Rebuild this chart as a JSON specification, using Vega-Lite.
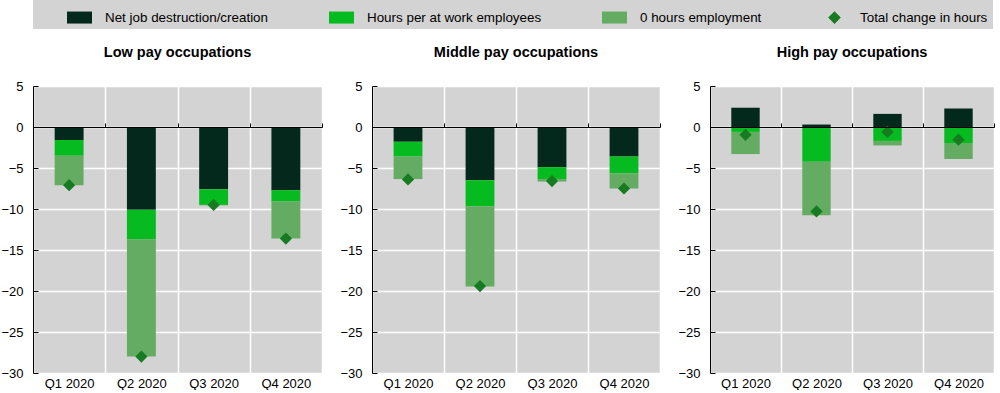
{
  "$schema": "https://vega.github.io/schema/vega-lite/v6.json",
  "background": "white",
  "padding": {"left": 0, "top": 0, "right": 5, "bottom": 0},
  "config": {
    "font": "Liberation Sans",
    "view": {"fill": "#d3d3d3", "stroke": null},
    "axis": {"labelFont": "Liberation Sans", "labelFontSize": 13, "labelColor": "black"},
    "title": {"font": "Liberation Sans", "fontSize": 14.5, "fontWeight": "bold", "color": "black", "anchor": "middle", "offset": 20},
    "legend": {
      "orient": "top", "direction": "horizontal", "title": null,
      "fillColor": "#d3d3d3", "padding": 5, "offset": 15,
      "symbolType": "M-1,-0.48H1V0.48H-1Z", "symbolSize": 625, "symbolStrokeWidth": 0,
      "labelFont": "Liberation Sans", "labelFontSize": 13.4, "labelColor": "black", "labelLimit": 400,
      "labelOffset": 13, "columnPadding": 31, "symbolOffset": 29
    },
    "concat": {"spacing": 16}
  },
  "data": {"values": [
    {"occ": "Low", "quarter": "Q1 2020", "series": "Net job destruction/creation", "value": -1.6},
    {"occ": "Low", "quarter": "Q1 2020", "series": "Hours per at work employees", "value": -1.9},
    {"occ": "Low", "quarter": "Q1 2020", "series": "0 hours employment", "value": -3.6},
    {"occ": "Low", "quarter": "Q1 2020", "series": "Total change in hours", "value": -7.1},
    {"occ": "Low", "quarter": "Q2 2020", "series": "Net job destruction/creation", "value": -10.1},
    {"occ": "Low", "quarter": "Q2 2020", "series": "Hours per at work employees", "value": -3.6},
    {"occ": "Low", "quarter": "Q2 2020", "series": "0 hours employment", "value": -14.3},
    {"occ": "Low", "quarter": "Q2 2020", "series": "Total change in hours", "value": -28.0},
    {"occ": "Low", "quarter": "Q3 2020", "series": "Net job destruction/creation", "value": -7.6},
    {"occ": "Low", "quarter": "Q3 2020", "series": "Hours per at work employees", "value": -1.9},
    {"occ": "Low", "quarter": "Q3 2020", "series": "0 hours employment", "value": -0.05},
    {"occ": "Low", "quarter": "Q3 2020", "series": "Total change in hours", "value": -9.5},
    {"occ": "Low", "quarter": "Q4 2020", "series": "Net job destruction/creation", "value": -7.7},
    {"occ": "Low", "quarter": "Q4 2020", "series": "Hours per at work employees", "value": -1.4},
    {"occ": "Low", "quarter": "Q4 2020", "series": "0 hours employment", "value": -4.5},
    {"occ": "Low", "quarter": "Q4 2020", "series": "Total change in hours", "value": -13.6},
    {"occ": "Middle", "quarter": "Q1 2020", "series": "Net job destruction/creation", "value": -1.8},
    {"occ": "Middle", "quarter": "Q1 2020", "series": "Hours per at work employees", "value": -1.8},
    {"occ": "Middle", "quarter": "Q1 2020", "series": "0 hours employment", "value": -2.75},
    {"occ": "Middle", "quarter": "Q1 2020", "series": "Total change in hours", "value": -6.4},
    {"occ": "Middle", "quarter": "Q2 2020", "series": "Net job destruction/creation", "value": -6.5},
    {"occ": "Middle", "quarter": "Q2 2020", "series": "Hours per at work employees", "value": -3.15},
    {"occ": "Middle", "quarter": "Q2 2020", "series": "0 hours employment", "value": -9.8},
    {"occ": "Middle", "quarter": "Q2 2020", "series": "Total change in hours", "value": -19.4},
    {"occ": "Middle", "quarter": "Q3 2020", "series": "Net job destruction/creation", "value": -4.9},
    {"occ": "Middle", "quarter": "Q3 2020", "series": "Hours per at work employees", "value": -1.45},
    {"occ": "Middle", "quarter": "Q3 2020", "series": "0 hours employment", "value": -0.3},
    {"occ": "Middle", "quarter": "Q3 2020", "series": "Total change in hours", "value": -6.6},
    {"occ": "Middle", "quarter": "Q4 2020", "series": "Net job destruction/creation", "value": -3.6},
    {"occ": "Middle", "quarter": "Q4 2020", "series": "Hours per at work employees", "value": -2.05},
    {"occ": "Middle", "quarter": "Q4 2020", "series": "0 hours employment", "value": -1.85},
    {"occ": "Middle", "quarter": "Q4 2020", "series": "Total change in hours", "value": -7.5},
    {"occ": "High", "quarter": "Q1 2020", "series": "Net job destruction/creation", "value": 2.35},
    {"occ": "High", "quarter": "Q1 2020", "series": "Hours per at work employees", "value": -0.6},
    {"occ": "High", "quarter": "Q1 2020", "series": "0 hours employment", "value": -2.7},
    {"occ": "High", "quarter": "Q1 2020", "series": "Total change in hours", "value": -0.95},
    {"occ": "High", "quarter": "Q2 2020", "series": "Net job destruction/creation", "value": 0.3},
    {"occ": "High", "quarter": "Q2 2020", "series": "Hours per at work employees", "value": -4.25},
    {"occ": "High", "quarter": "Q2 2020", "series": "0 hours employment", "value": -6.5},
    {"occ": "High", "quarter": "Q2 2020", "series": "Total change in hours", "value": -10.3},
    {"occ": "High", "quarter": "Q3 2020", "series": "Net job destruction/creation", "value": 1.6},
    {"occ": "High", "quarter": "Q3 2020", "series": "Hours per at work employees", "value": -1.7},
    {"occ": "High", "quarter": "Q3 2020", "series": "0 hours employment", "value": -0.55},
    {"occ": "High", "quarter": "Q3 2020", "series": "Total change in hours", "value": -0.6},
    {"occ": "High", "quarter": "Q4 2020", "series": "Net job destruction/creation", "value": 2.25},
    {"occ": "High", "quarter": "Q4 2020", "series": "Hours per at work employees", "value": -1.95},
    {"occ": "High", "quarter": "Q4 2020", "series": "0 hours employment", "value": -1.95},
    {"occ": "High", "quarter": "Q4 2020", "series": "Total change in hours", "value": -1.55}
  ]},
  "hconcat": [
    {
      "width": 289, "height": 287,
      "title": {"text": "Low pay occupations"},
      "transform": [{"filter": "datum.occ === 'Low'"}],
      "resolve": {"axis": {"x": "independent"}},
      "layer": [
        {
          "transform": [{"filter": "datum.series !== 'Total change in hours'"}],
          "mark": {"type": "bar", "width": {"band": 0.4}},
          "encoding": {
            "x": {"field": "quarter", "type": "nominal", "scale": {"paddingInner": 0, "paddingOuter": 0}, "axis": {"orient": "bottom", "title": null, "labelAngle": 0, "ticks": false, "domain": false, "grid": true, "gridColor": "white", "gridWidth": 1.5, "tickBand": "extent", "labelPadding": 4}},
            "y": {"field": "value", "type": "quantitative", "stack": "zero", "scale": {"domain": [-30, 5], "nice": false}, "axis": {"title": null, "values": [-30, -25, -20, -15, -10, -5, 0, 5], "domain": true, "domainColor": "black", "ticks": true, "tickColor": "black", "tickSize": -5, "labelPadding": 15, "grid": true, "gridColor": "white", "gridWidth": 1.5}},
            "color": {"field": "series", "type": "nominal", "sort": ["Net job destruction/creation", "Hours per at work employees", "0 hours employment", "Total change in hours"], "scale": {"domain": ["Net job destruction/creation", "Hours per at work employees", "0 hours employment", "Total change in hours"], "range": ["#03291c", "#05bb1f", "#64ac62", "#177b22"]}, "legend": {"encode": {"symbols": {"update": {"shape": {"signal": "datum.value === 'Total change in hours' ? 'diamond' : 'M-1,-0.48H1V0.48H-1Z'"}, "size": {"signal": "datum.value === 'Total change in hours' ? 160 : 625"}}}}}}
          }
        },
        {
          "transform": [{"filter": "datum.series === 'Total change in hours'"}],
          "mark": {"type": "point", "shape": "diamond", "filled": true, "size": 150, "opacity": 1},
          "encoding": {
            "x": {"field": "quarter", "type": "nominal", "axis": {"orient": "top", "offset": -41, "title": null, "labels": false, "ticks": true, "tickSize": 4, "tickColor": "black", "domain": true, "domainColor": "black", "grid": false, "tickBand": "extent", "zindex": 1}},
            "y": {"field": "value", "type": "quantitative"},
            "color": {"field": "series", "type": "nominal"}
          }
        }
      ]
    },
    {
      "width": 288, "height": 287,
      "title": {"text": "Middle pay occupations"},
      "transform": [{"filter": "datum.occ === 'Middle'"}],
      "resolve": {"axis": {"x": "independent"}},
      "layer": [
        {
          "transform": [{"filter": "datum.series !== 'Total change in hours'"}],
          "mark": {"type": "bar", "width": {"band": 0.4}},
          "encoding": {
            "x": {"field": "quarter", "type": "nominal", "scale": {"paddingInner": 0, "paddingOuter": 0}, "axis": {"orient": "bottom", "title": null, "labelAngle": 0, "ticks": false, "domain": false, "grid": true, "gridColor": "white", "gridWidth": 1.5, "tickBand": "extent", "labelPadding": 4}},
            "y": {"field": "value", "type": "quantitative", "stack": "zero", "scale": {"domain": [-30, 5], "nice": false}, "axis": {"title": null, "values": [-30, -25, -20, -15, -10, -5, 0, 5], "domain": true, "domainColor": "black", "ticks": true, "tickColor": "black", "tickSize": -5, "labelPadding": 15, "grid": true, "gridColor": "white", "gridWidth": 1.5}},
            "color": {"field": "series", "type": "nominal", "sort": ["Net job destruction/creation", "Hours per at work employees", "0 hours employment", "Total change in hours"]}
          }
        },
        {
          "transform": [{"filter": "datum.series === 'Total change in hours'"}],
          "mark": {"type": "point", "shape": "diamond", "filled": true, "size": 150, "opacity": 1},
          "encoding": {
            "x": {"field": "quarter", "type": "nominal", "axis": {"orient": "top", "offset": -41, "title": null, "labels": false, "ticks": true, "tickSize": 4, "tickColor": "black", "domain": true, "domainColor": "black", "grid": false, "tickBand": "extent", "zindex": 1}},
            "y": {"field": "value", "type": "quantitative"},
            "color": {"field": "series", "type": "nominal"}
          }
        }
      ]
    },
    {
      "width": 284, "height": 287,
      "title": {"text": "High pay occupations"},
      "transform": [{"filter": "datum.occ === 'High'"}],
      "resolve": {"axis": {"x": "independent"}},
      "layer": [
        {
          "transform": [{"filter": "datum.series !== 'Total change in hours'"}],
          "mark": {"type": "bar", "width": {"band": 0.4}},
          "encoding": {
            "x": {"field": "quarter", "type": "nominal", "scale": {"paddingInner": 0, "paddingOuter": 0}, "axis": {"orient": "bottom", "title": null, "labelAngle": 0, "ticks": false, "domain": false, "grid": true, "gridColor": "white", "gridWidth": 1.5, "tickBand": "extent", "labelPadding": 4}},
            "y": {"field": "value", "type": "quantitative", "stack": "zero", "scale": {"domain": [-30, 5], "nice": false}, "axis": {"title": null, "values": [-30, -25, -20, -15, -10, -5, 0, 5], "domain": true, "domainColor": "black", "ticks": true, "tickColor": "black", "tickSize": -5, "labelPadding": 15, "grid": true, "gridColor": "white", "gridWidth": 1.5}},
            "color": {"field": "series", "type": "nominal", "sort": ["Net job destruction/creation", "Hours per at work employees", "0 hours employment", "Total change in hours"]}
          }
        },
        {
          "transform": [{"filter": "datum.series === 'Total change in hours'"}],
          "mark": {"type": "point", "shape": "diamond", "filled": true, "size": 150, "opacity": 1},
          "encoding": {
            "x": {"field": "quarter", "type": "nominal", "axis": {"orient": "top", "offset": -41, "title": null, "labels": false, "ticks": true, "tickSize": 4, "tickColor": "black", "domain": true, "domainColor": "black", "grid": false, "tickBand": "extent", "zindex": 1}},
            "y": {"field": "value", "type": "quantitative"},
            "color": {"field": "series", "type": "nominal"}
          }
        }
      ]
    }
  ]
}
